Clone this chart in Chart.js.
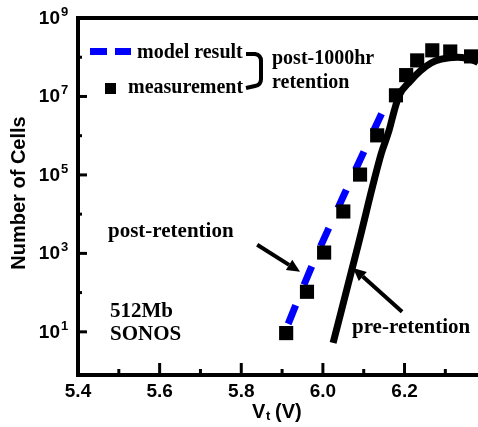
<!DOCTYPE html>
<html>
<head>
<meta charset="utf-8">
<script src="https://cdn.jsdelivr.net/npm/chart.js@4/dist/chart.umd.min.js"></script>
<style>
  html, body { margin: 0; padding: 0; background: #fff; }
  canvas { display: block; }
</style>
</head>
<body>
<canvas id="chart" width="478" height="427"></canvas>
<script>
// ---------- data ----------
// post-1000hr measurement (squares)
const measVt    = [5.910, 5.961, 6.003, 6.050, 6.091, 6.133, 6.179, 6.204, 6.231, 6.268, 6.312, 6.363];
const measCells = [9.3, 105, 1050, 1.17e4, 1.02e5, 1.02e6, 1.07e7, 3.5e7, 8.3e7, 1.5e8, 1.4e8, 1.05e8];

// post-1000hr model result (blue dashed)
const modelVt    = [5.915, 5.969, 6.054, 6.152];
const modelCells = [16, 380, 3.5e4, 5.6e6];

// pre-retention distribution (black solid)
const preVt    = [6.025, 6.086, 6.143, 6.162, 6.175, 6.187, 6.214, 6.238, 6.265, 6.290, 6.329, 6.353, 6.380, 6.400];
const preCells = [5.2, 1580, 3.5e5, 1.35e6, 4.4e6, 1.07e7, 2.45e7, 4.4e7, 7.1e7, 8.9e7, 1.0e8, 9.3e7, 7.4e7, 5.6e7];

// axis ticks
const xTicks = [5.4, 5.5, 5.6, 5.7, 5.8, 5.9, 6.0, 6.1, 6.2, 6.3];
const xTickLabels = ['5.4', '', '5.6', '', '5.8', '', '6.0', '', '6.2', ''];
const yTickExps = [1, 2, 3, 4, 5, 6, 7, 8, 9];
const yLabelExps = [1, 3, 5, 7, 9];

const BLUE = '#0000ff';
const SANS = "'Liberation Sans', Arial, sans-serif";
const SERIF = "'Liberation Serif', 'Times New Roman', serif";

const pts = (xs, ys) => xs.map((v, i) => ({ x: v, y: ys[i] }));

// ---------- helpers ----------
function arrow(ctx, x1, y1, x2, y2) {
  const ang = Math.atan2(y2 - y1, x2 - x1);
  const head = 13, half = 6;
  const bx = x2 - head * Math.cos(ang), by = y2 - head * Math.sin(ang);
  ctx.beginPath();
  ctx.moveTo(x1, y1);
  ctx.lineTo(bx, by);
  ctx.stroke();
  ctx.beginPath();
  ctx.moveTo(x2, y2);
  ctx.lineTo(bx + half * Math.sin(ang), by - half * Math.cos(ang));
  ctx.lineTo(bx - half * Math.sin(ang), by + half * Math.cos(ang));
  ctx.closePath();
  ctx.fill();
}

// ---------- axes, labels, legend, annotations ----------
const decor = {
  id: 'decor',
  afterDraw(chart) {
    const { ctx, chartArea: a, scales: { x, y } } = chart;
    ctx.save();
    ctx.strokeStyle = '#000';
    ctx.fillStyle = '#000';

    // frame (left, top, bottom; right side is cut off)
    ctx.lineWidth = 4;
    ctx.lineJoin = 'miter';
    ctx.beginPath();
    ctx.moveTo(chart.width, a.top);
    ctx.lineTo(a.left, a.top);
    ctx.lineTo(a.left, a.bottom);
    ctx.lineTo(chart.width, a.bottom);
    ctx.stroke();

    // x ticks (inward)
    ctx.lineWidth = 3;
    xTicks.forEach((v, i) => {
      const px = x.getPixelForValue(v);
      const len = xTickLabels[i] ? 12 : 6;
      ctx.beginPath();
      ctx.moveTo(px, a.bottom);
      ctx.lineTo(px, a.bottom - len);
      ctx.stroke();
    });
    // y ticks (inward)
    yTickExps.forEach(e => {
      if (e === 9) return;
      const py = y.getPixelForValue(Math.pow(10, e));
      const len = e % 2 ? 9 : 4;
      ctx.beginPath();
      ctx.moveTo(a.left, py);
      ctx.lineTo(a.left + len, py);
      ctx.stroke();
    });

    // x tick labels
    ctx.font = 'bold 19px ' + SANS;
    ctx.textAlign = 'center';
    ctx.textBaseline = 'alphabetic';
    xTicks.forEach((v, i) => {
      if (!xTickLabels[i]) return;
      ctx.fillText(xTickLabels[i], x.getPixelForValue(v), a.bottom + 22);
    });

    // y tick labels 10^n
    yLabelExps.forEach(e => {
      const py = y.getPixelForValue(Math.pow(10, e));
      ctx.textAlign = 'right';
      ctx.font = 'bold 19px ' + SANS;
      ctx.fillText('10', 60, py + 6);
      ctx.textAlign = 'left';
      ctx.font = 'bold 13px ' + SANS;
      ctx.fillText(String(e), 61, py - 2);
    });

    // x title: Vt (V)
    ctx.textAlign = 'left';
    ctx.font = 'bold 20px ' + SANS;
    ctx.fillText('V', 252, 418);
    ctx.font = 'bold 13px ' + SANS;
    ctx.fillText('t', 266, 420);
    ctx.font = 'bold 20px ' + SANS;
    ctx.fillText('(V)', 275, 418);

    // y title
    ctx.save();
    ctx.translate(19, 193);
    ctx.rotate(-Math.PI / 2);
    ctx.textAlign = 'center';
    ctx.textBaseline = 'middle';
    ctx.font = 'bold 20px ' + SANS;
    ctx.fillText('Number of Cells', 0, 0);
    ctx.restore();

    // legend
    ctx.save();
    ctx.strokeStyle = BLUE;
    ctx.lineWidth = 7;
    ctx.beginPath();
    ctx.moveTo(90, 51.5); ctx.lineTo(107, 51.5);
    ctx.moveTo(115, 51.5); ctx.lineTo(131, 51.5);
    ctx.stroke();
    ctx.restore();
    ctx.fillRect(105, 83, 11, 11);
    ctx.font = 'bold 20px ' + SERIF;
    ctx.textAlign = 'left';
    ctx.fillText('model result', 137, 58);
    ctx.fillText('measurement', 128, 93);

    // bracket
    ctx.lineWidth = 4;
    ctx.lineJoin = 'round';
    ctx.beginPath();
    ctx.moveTo(246, 54);
    ctx.lineTo(255, 54);
    ctx.quadraticCurveTo(261, 55, 261, 61);
    ctx.lineTo(261, 79);
    ctx.quadraticCurveTo(261, 85, 255, 86);
    ctx.lineTo(246, 88);
    ctx.stroke();
    ctx.fillText('post-1000hr', 272, 64);
    ctx.fillText('retention', 272, 88);

    // annotations
    ctx.font = 'bold 21px ' + SERIF;
    ctx.fillText('post-retention', 108, 237);
    ctx.fillText('512Mb', 110, 317);
    ctx.fillText('SONOS', 110, 340);
    ctx.fillText('pre-retention', 352, 333);

    // arrows, anchored in data space
    ctx.lineWidth = 4;
    ctx.lineJoin = 'miter';
    arrow(ctx,
      x.getPixelForValue(5.839), y.getPixelForValue(Math.pow(10, 3.22)),
      x.getPixelForValue(5.944), y.getPixelForValue(Math.pow(10, 2.53)));
    arrow(ctx,
      x.getPixelForValue(6.194), y.getPixelForValue(Math.pow(10, 1.51)),
      x.getPixelForValue(6.074), y.getPixelForValue(Math.pow(10, 2.63)));

    ctx.restore();
  }
};

new Chart(document.getElementById('chart'), {
  type: 'scatter',
  data: {
    datasets: [
      {
        label: 'measurement',
        data: pts(measVt, measCells),
        showLine: false,
        pointStyle: 'rect',
        pointRadius: 10,
        pointBorderWidth: 0,
        backgroundColor: '#000',
        borderColor: '#000'
      },
      {
        label: 'pre-retention',
        data: pts(preVt, preCells),
        showLine: true,
        borderColor: '#000',
        borderWidth: 7,
        pointRadius: 0,
        cubicInterpolationMode: 'monotone'
      },
      {
        label: 'model result',
        data: pts(modelVt, modelCells),
        showLine: true,
        borderColor: BLUE,
        borderWidth: 7,
        borderDash: [20, 22],
        pointRadius: 0,
        cubicInterpolationMode: 'monotone'
      }
    ]
  },
  options: {
    responsive: false,
    animation: false,
    layout: { autoPadding: false, padding: { left: 78, top: 18, right: 0, bottom: 52 } },
    plugins: { legend: { display: false }, tooltip: { enabled: false } },
    scales: {
      x: { type: 'linear', min: 5.4, max: 6.38, display: false },
      y: { type: 'logarithmic', min: Math.pow(10, -0.1), max: 1e9, display: false }
    }
  },
  plugins: [decor]
});
</script>
</body>
</html>
